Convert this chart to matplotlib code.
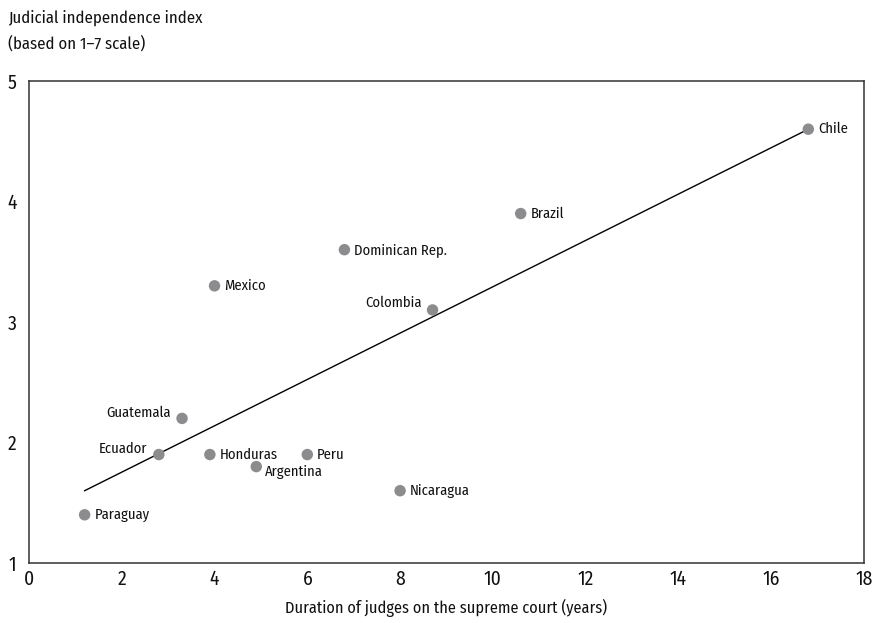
import numpy as np
import matplotlib.pyplot as plt

# Data
countries = ["Chile", "Brazil", "Dominican Rep.", "Mexico", "Colombia", "Guatemala",
             "Ecuador", "Honduras", "Peru", "Argentina", "Nicaragua", "Paraguay"]
duration = [16.8, 10.6, 6.8, 4.0, 8.7, 3.3, 2.8, 3.9, 6.0, 4.9, 8.0, 1.2]
independence = [4.6, 3.9, 3.6, 3.3, 3.1, 2.2, 1.9, 1.9, 1.9, 1.8, 1.6, 1.4]

# trend line end points
line_x = [1.2, 16.8]
line_y = [1.6, 4.6]

# label offsets (points) and alignment
offsets = {
    "Chile": (7, 0, "left"),
    "Brazil": (7, 0, "left"),
    "Dominican Rep.": (7, 0, "left"),
    "Mexico": (7, 0, "left"),
    "Colombia": (-8, 5, "right"),
    "Guatemala": (-8, 4, "right"),
    "Ecuador": (-8, 4, "right"),
    "Honduras": (7, 0, "left"),
    "Peru": (7, 0, "left"),
    "Argentina": (6, -4, "left"),
    "Nicaragua": (7, 0, "left"),
    "Paraguay": (7, 0, "left"),
}

plt.rcParams['font.family'] = ['Fira Sans Condensed', 'DejaVu Sans']

fig = plt.figure(figsize=(8.75, 6.23), dpi=100)
ax = fig.add_axes([0.0331, 0.0963, 0.9543, 0.7737])

ax.plot(line_x, line_y, color="black", linewidth=1.0, zorder=2)
ax.scatter(duration, independence, s=68, color="#8c8c8e", edgecolors="none", zorder=3)

for name, x, y in zip(countries, duration, independence):
    dx, dy, ha = offsets[name]
    ax.annotate(name, (x, y), xytext=(dx, dy), textcoords="offset points",
                ha=ha, va="center", fontsize=10.5, color="#111111")

ax.set_xlim(0, 18)
ax.set_ylim(1, 5)
ax.set_xticks(np.arange(0, 19, 2))
ax.set_yticks([1, 2, 3, 4, 5])
ax.tick_params(length=0, labelsize=14, colors="#111111")
ax.tick_params(axis="x", pad=5)
ax.tick_params(axis="y", pad=9)
for sp in ax.spines.values():
    sp.set_color("#333333")
    sp.set_linewidth(1.1)

ax.set_xlabel("Duration of judges on the supreme court (years)", fontsize=11.7,
              color="#111111", labelpad=7)
fig.text(0.009, 0.951, "Judicial independence index\n(based on 1\u20137 scale)",
         fontsize=12, color="#111111", ha="left", va="center", linespacing=1.7)

fig.savefig("out.png", dpi=100)
